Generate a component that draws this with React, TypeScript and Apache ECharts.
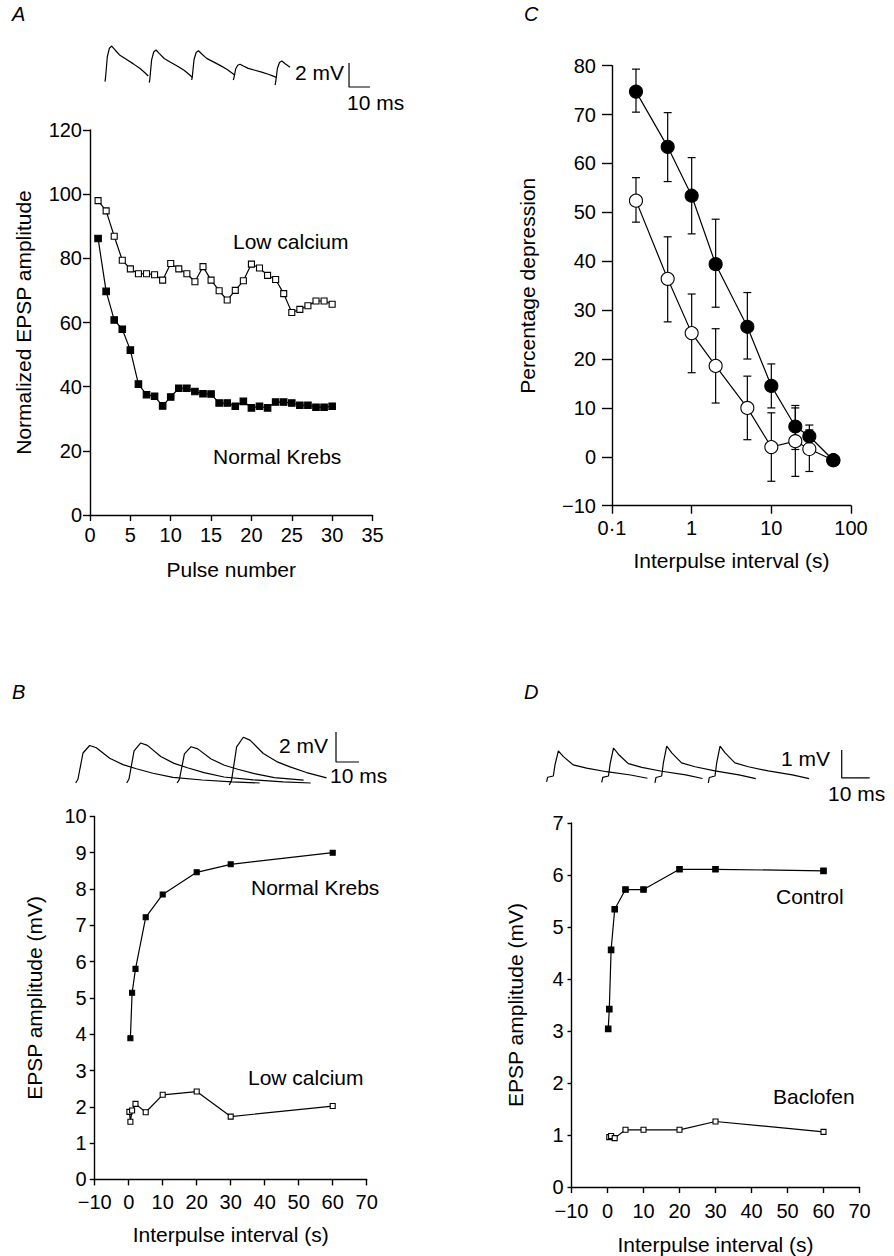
import { useEffect, useRef } from 'react';
import * as echarts from 'echarts';

const FONT = '"Liberation Sans", Arial, Helvetica, sans-serif';
const BLACK = '#000';

// ---------------- Panel A : EPSP amplitude vs pulse number ----------------
const pulseNumbers = [1, 2, 3, 4, 5, 6, 7, 8, 9, 10, 11, 12, 13, 14, 15, 16, 17, 18, 19, 20, 21, 22, 23, 24, 25, 26, 27, 28, 29, 30];
const lowCalciumA = [98, 94.8, 86.9, 79.4, 76.7, 75.2, 75.2, 74.9, 73.2, 78.4, 76.7, 75.2, 72.7, 77.4, 73.2, 69.9, 67, 70, 73, 78.2, 77, 74.7, 73.4, 69, 63.1, 64.1, 65.2, 66.7, 66.7, 65.7];
const normalKrebsA = [86.2, 69.7, 60.8, 57.9, 51.4, 40.8, 37.5, 37, 34, 36.8, 39.5, 39.5, 38.5, 37.8, 37.7, 34.9, 34.9, 33.9, 35.4, 33.4, 33.9, 33.4, 35.2, 35.2, 34.9, 34.2, 34.2, 33.6, 33.6, 33.9];
const pulseAxisA = [0, 35, 5];
const ampAxisA = [0, 120, 20];

// ---------------- Panel C : percentage depression vs interval (log) ----------------
const intervalsC = [0.2, 0.5, 1, 2, 5, 10, 20, 30, 60];
const filledC = [74.7, 63.4, 53.4, 39.4, 26.6, 14.5, 6.2, 4.2, -0.7];
const filledLowC = [70.5, 56.3, 45.6, 30.6, 20, 10, 1.5, 2, null];
const filledHighC = [79.3, 70.4, 61.2, 48.6, 33.6, 19, 10.5, 6.5, null];
const openC = [52.4, 36.4, 25.3, 18.6, 10, 2, 3.2, 1.6, -0.7];
const openLowC = [48, 27.6, 17.2, 11, 3.5, -5, -4, -3, null];
const openHighC = [57.1, 45, 33.3, 26.2, 16.5, 9, 10, 5.5, null];
const depressionAxisC = [-10, 80, 10];
const logTickValuesC = [0.1, 1, 10, 100];
const logTickLabelsC = ['0·1', '1', '10', '100'];

// ---------------- Panel B : EPSP amplitude vs interval ----------------
const normalKrebsBX = [0.5, 1, 2, 5, 10, 20, 30, 60];
const normalKrebsBY = [3.89, 5.14, 5.8, 7.22, 7.85, 8.46, 8.68, 9.0];
const lowCalciumBX = [0.2, 0.5, 1, 2, 5, 10, 20, 30, 60];
const lowCalciumBY = [1.86, 1.59, 1.9, 2.08, 1.85, 2.33, 2.42, 1.73, 2.02];
const intervalAxisB = [-10, 70, 10];
const ampAxisB = [0, 10, 1];

// ---------------- Panel D : control vs baclofen ----------------
const controlDX = [0.2, 0.5, 1, 2, 5, 10, 20, 30, 60];
const controlDY = [3.04, 3.42, 4.56, 5.34, 5.72, 5.72, 6.11, 6.11, 6.08];
const baclofenDX = [0.5, 1, 2, 5, 10, 20, 30, 60];
const baclofenDY = [0.96, 0.98, 0.94, 1.1, 1.1, 1.1, 1.26, 1.06];
const intervalAxisD = [-10, 70, 10];
const ampAxisD = [0, 7, 1];

// ---------------- EPSP recordings ----------------
const epspATime = [0, 0.3, 1.1, 2.1, 3.2, 4.8, 7.1, 10.3, 13.5, 16.7, 19, 20.6];
const epspAFrac = [0, 0.14, 0.7, 0.94, 1, 0.89, 0.74, 0.62, 0.5, 0.37, 0.25, 0.16];
const traceAOnsetMs = [0, 21.1, 41.3, 61.1, 81];
const traceAAmpMv = [2.97, 2.72, 2.44, 1.31, 2.0];
const traceABaseMv = [0, -0.08, 0.14, 0.14, -0.28];
const traceAEndMs = [20.6, 20.6, 20.6, 20.6, 7.5];
const scaleBarAMs = [116.2, 116.2, 126.2];
const scaleBarAMv = [1.56, -0.44, -0.44];

const epspBTime = [0, 1, 3.2, 6.1, 9, 14.8, 20.6, 26.4, 33.6, 42.3, 55, 68, 80];
const epspBFrac = [0, 0.1, 0.8, 1, 0.94, 0.66, 0.49, 0.38, 0.26, 0.15, 0.08, 0.03, 0];
const traceBOnsetMs = [6.8, 29, 50.9, 73.6];
const traceBAmpMv = [2.5, 2.67, 2.42, 3.18];
const traceBBaseMv = [0, 0, 0, -0.13];
const traceBEndMs = [80, 80, 57, 42.3];
const scaleBarBMs = [120, 120, 130];
const scaleBarBMv = [3.4, 1.4, 1.4];

const epspDTime = [0, 0.36, 2.4, 3, 4.2, 6, 9.5, 14.3, 21.4, 30, 36];
const epspDFrac = [-0.23, -0.05, 0, 0.44, 1, 0.77, 0.44, 0.31, 0.17, 0.04, -0.09];
const traceDOnsetMs = [9.5, 29.2, 48.2, 67.25];
const traceDAmpMv = [0.9, 1.0, 1.07, 1.07];
const scaleBarDMs = [114.9, 114.9, 124.9];
const scaleBarDMv = [0.93, -0.07, -0.07];

function buildTrace(time: number[], frac: number[], onset: number, amp: number, base: number, end: number) {
  const out: number[][] = [];
  for (let i = 0; i < time.length; i++) {
    if (time[i] <= end) out.push([onset + time[i], base + amp * frac[i]]);
  }
  return out;
}

function pairs(xs: number[], ys: (number | null)[]) {
  return xs.map((x, i) => [x, ys[i]]);
}

function minusFmt(v: number) {
  return v < 0 ? '\u2212' + Math.abs(v) : String(v);
}

function valueAxis(gridIndex: number, range: number[], o: any = {}) {
  return {
    type: 'value',
    gridIndex,
    min: range[0],
    max: range[1],
    interval: range[2],
    splitLine: { show: false },
    axisLine: { show: true, onZero: false, lineStyle: { color: BLACK, width: 1.4 } },
    axisTick: { show: true, length: o.tick ?? 6, lineStyle: { color: BLACK, width: 1.4 } },
    axisLabel: { color: BLACK, fontSize: 20, fontFamily: FONT, margin: o.margin ?? 8, formatter: minusFmt },
    name: o.name,
    nameLocation: 'middle',
    nameGap: o.nameGap,
    nameRotate: o.nameRotate,
    nameTextStyle: { color: BLACK, fontSize: 21, fontFamily: FONT },
  };
}

function hiddenAxis(gridIndex: number, min: number, max: number) {
  return { type: 'value', gridIndex, min, max, show: false, splitLine: { show: false } };
}

const lineStyle = { color: BLACK, width: 1.2 };

function markerSeries(x: number, y: number, data: any[], symbol: string, size: number, filled: boolean, z = 3) {
  return {
    type: 'line',
    xAxisIndex: x,
    yAxisIndex: y,
    data,
    symbol,
    symbolSize: size,
    showAllSymbol: true,
    lineStyle,
    itemStyle: { color: filled ? BLACK : '#fff', borderColor: BLACK, borderWidth: 1.1 },
    emphasis: { disabled: true },
    silent: true,
    z,
  };
}

function errorBarSeries(xs: number[], lo: (number | null)[], hi: (number | null)[]) {
  const data = xs.map((x, i) => [x, lo[i], hi[i]]).filter((d) => d[1] !== null && d[2] !== null);
  return {
    type: 'custom',
    xAxisIndex: 1,
    yAxisIndex: 1,
    data,
    silent: true,
    z: 1,
    renderItem: (_p: any, api: any) => {
      const x = api.value(0);
      const a = api.coord([x, api.value(1)]);
      const b = api.coord([x, api.value(2)]);
      const cap = 4;
      const st = { stroke: BLACK, lineWidth: 1.2 };
      return {
        type: 'group',
        children: [
          { type: 'line', shape: { x1: a[0], y1: a[1], x2: b[0], y2: b[1] }, style: st },
          { type: 'line', shape: { x1: a[0] - cap, y1: a[1], x2: a[0] + cap, y2: a[1] }, style: st },
          { type: 'line', shape: { x1: b[0] - cap, y1: b[1], x2: b[0] + cap, y2: b[1] }, style: st },
        ],
      };
    },
  };
}

function traceSeries(xi: number, data: number[][]) {
  return {
    type: 'line',
    xAxisIndex: xi,
    yAxisIndex: xi,
    data,
    symbol: 'none',
    lineStyle: { color: BLACK, width: 1.2 },
    silent: true,
    z: 2,
  };
}

function label(text: string, x: number, y: number, o: any = {}) {
  return {
    type: 'text',
    x,
    y,
    silent: true,
    style: {
      text,
      fill: BLACK,
      fontSize: o.size ?? 21,
      fontFamily: FONT,
      fontStyle: o.italic ? 'italic' : 'normal',
      align: o.align ?? 'left',
      verticalAlign: 'middle',
    },
  };
}

function buildOption() {
  const grid = [
    { left: 90, top: 130, width: 282.5, height: 385 }, // A
    { left: 612, top: 65.7, width: 239, height: 440 }, // C
    { left: 94.7, top: 816.4, width: 272, height: 363 }, // B
    { left: 571.5, top: 823, width: 288, height: 364 }, // D
    { left: 105, top: 33.7, width: 315, height: 60 }, // A traces
    { left: 60, top: 723, width: 322, height: 75 }, // B traces
    { left: 520, top: 720, width: 364, height: 84 }, // D traces
  ].map((g) => ({ ...g, outerBoundsMode: 'none', containLabel: false }));

  const xAxis: any[] = [
    valueAxis(0, pulseAxisA, { name: 'Pulse number', nameGap: 44, margin: 10 }),
    {
      type: 'log',
      logBase: 10,
      gridIndex: 1,
      min: 0.1,
      max: 100,
      splitLine: { show: false },
      axisLine: { show: true, onZero: false, lineStyle: { color: BLACK, width: 1.4 } },
      axisTick: { show: true, length: 8, lineStyle: { color: BLACK, width: 1.4 } },
      axisLabel: {
        color: BLACK,
        fontSize: 20,
        fontFamily: FONT,
        margin: 12,
        formatter: (v: number) => {
          const i = logTickValuesC.findIndex((t) => Math.abs(t - v) < 1e-6 * Math.max(1, t));
          return i >= 0 ? logTickLabelsC[i] : '';
        },
      },
      name: 'Interpulse interval (s)',
      nameLocation: 'middle',
      nameGap: 44,
      nameTextStyle: { color: BLACK, fontSize: 21, fontFamily: FONT },
    },
    valueAxis(2, intervalAxisB, { name: 'Interpulse interval (s)', nameGap: 45, margin: 13 }),
    valueAxis(3, intervalAxisD, { name: 'Interpulse interval (s)', nameGap: 47, margin: 14 }),
    hiddenAxis(4, 0, 150),
    hiddenAxis(5, 0, 140),
    hiddenAxis(6, 0, 130),
  ];

  const yAxis: any[] = [
    valueAxis(0, ampAxisA, { name: 'Normalized EPSP amplitude', nameGap: 56, nameRotate: 90, tick: 7 }),
    valueAxis(1, depressionAxisC, { name: 'Percentage depression', nameGap: 74, nameRotate: 90, tick: 10, margin: 16 }),
    valueAxis(2, ampAxisB, { name: 'EPSP amplitude (mV)', nameGap: 50, nameRotate: 90, tick: 5 }),
    valueAxis(3, ampAxisD, { name: 'EPSP amplitude (mV)', nameGap: 46, nameRotate: 90, tick: 4 }),
    hiddenAxis(4, -1, 4),
    hiddenAxis(5, -1, 4),
    hiddenAxis(6, -1, 2),
  ];

  const series: any[] = [
    markerSeries(0, 0, pairs(pulseNumbers, lowCalciumA), 'rect', 6, false),
    markerSeries(0, 0, pairs(pulseNumbers, normalKrebsA), 'rect', 6.5, true),
    errorBarSeries(intervalsC, openLowC, openHighC),
    errorBarSeries(intervalsC, filledLowC, filledHighC),
    markerSeries(1, 1, pairs(intervalsC, openC), 'circle', 13, false, 3),
    markerSeries(1, 1, pairs(intervalsC, filledC), 'circle', 13, true, 4),
    markerSeries(2, 2, pairs(normalKrebsBX, normalKrebsBY), 'rect', 5, true),
    markerSeries(2, 2, pairs(lowCalciumBX, lowCalciumBY), 'rect', 5, false),
    markerSeries(3, 3, pairs(controlDX, controlDY), 'rect', 5.5, true),
    markerSeries(3, 3, pairs(baclofenDX, baclofenDY), 'rect', 5, false),
  ];

  traceAOnsetMs.forEach((on, i) => {
    series.push(traceSeries(4, buildTrace(epspATime, epspAFrac, on, traceAAmpMv[i], traceABaseMv[i], traceAEndMs[i])));
  });
  series.push(traceSeries(4, pairs(scaleBarAMs, scaleBarAMv) as number[][]));

  traceBOnsetMs.forEach((on, i) => {
    series.push(traceSeries(5, buildTrace(epspBTime, epspBFrac, on, traceBAmpMv[i], traceBBaseMv[i], traceBEndMs[i])));
  });
  series.push(traceSeries(5, pairs(scaleBarBMs, scaleBarBMv) as number[][]));

  traceDOnsetMs.forEach((on) => {
    const i = traceDOnsetMs.indexOf(on);
    series.push(traceSeries(6, buildTrace(epspDTime, epspDFrac, on, traceDAmpMv[i], 0, 40)));
  });
  series.push(traceSeries(6, pairs(scaleBarDMs, scaleBarDMv) as number[][]));

  const graphic = [
    label('A', 12, 14, { italic: true, size: 20 }),
    label('C', 524, 14, { italic: true, size: 20 }),
    label('B', 12, 692, { italic: true, size: 20 }),
    label('D', 524, 692, { italic: true, size: 20 }),
    label('Low calcium', 233, 241),
    label('Normal Krebs', 213, 456),
    label('2 mV', 344, 72, { align: 'right', size: 21 }),
    label('10 ms', 347, 102, { size: 21 }),
    label('Normal Krebs', 251, 887),
    label('Low calcium', 248, 1077),
    label('2 mV', 328, 745, { align: 'right', size: 21 }),
    label('10 ms', 330, 775, { size: 21 }),
    label('Control', 776, 896),
    label('Baclofen', 773, 1096),
    label('1 mV', 781, 758, { size: 21 }),
    label('10 ms', 828, 793, { size: 21 }),
  ];

  return { animation: false, backgroundColor: '#fff', grid, xAxis, yAxis, series, graphic };
}

export default function App() {
  const ref = useRef<HTMLDivElement>(null);
  useEffect(() => {
    if (!ref.current) return;
    const chart = echarts.init(ref.current, undefined, { renderer: 'svg' });
    chart.setOption(buildOption() as any);
    return () => chart.dispose();
  }, []);
  return (
    <div
      ref={ref}
      style={{ position: 'absolute', left: 0, top: 0, width: 894, height: 1256, background: '#fff' }}
    />
  );
}
